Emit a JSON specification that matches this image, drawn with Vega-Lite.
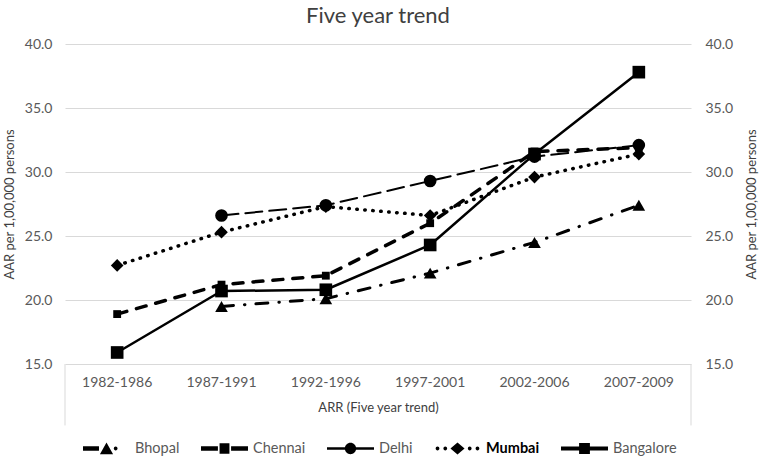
{
  "$schema": "https://vega.github.io/schema/vega-lite/v6.json",
  "width": 626,
  "height": 320,
  "autosize": {"type": "none"},
  "padding": {"left": 65, "top": 44, "right": 70, "bottom": 93},
  "background": "white",
  "title": {"text": "Five year trend", "font": "Lato", "fontSize": 22, "fontWeight": "normal", "color": "#404040", "anchor": "middle", "offset": 9},
  "config": {
    "view": {"stroke": null},
    "font": "Lato",
    "axis": {"labelFont": "Lato", "titleFont": "Lato", "labelColor": "#595959", "titleColor": "#404040", "titleFontWeight": "normal", "labelFontSize": 14, "titleFontSize": 13}
  },
  "data": {
    "values": [
      {"period": "1987-1991", "city": "Bhopal", "value": 19.5},
      {"period": "1992-1996", "city": "Bhopal", "value": 20.1},
      {"period": "1997-2001", "city": "Bhopal", "value": 22.1},
      {"period": "2002-2006", "city": "Bhopal", "value": 24.5},
      {"period": "2007-2009", "city": "Bhopal", "value": 27.4},
      {"period": "1982-1986", "city": "Chennai", "value": 18.9},
      {"period": "1987-1991", "city": "Chennai", "value": 21.2},
      {"period": "1992-1996", "city": "Chennai", "value": 21.9},
      {"period": "1997-2001", "city": "Chennai", "value": 26.0},
      {"period": "2002-2006", "city": "Chennai", "value": 31.6},
      {"period": "2007-2009", "city": "Chennai", "value": 31.9},
      {"period": "1987-1991", "city": "Delhi", "value": 26.6},
      {"period": "1992-1996", "city": "Delhi", "value": 27.4},
      {"period": "1997-2001", "city": "Delhi", "value": 29.3},
      {"period": "2002-2006", "city": "Delhi", "value": 31.2},
      {"period": "2007-2009", "city": "Delhi", "value": 32.1},
      {"period": "1982-1986", "city": "Mumbai", "value": 22.7},
      {"period": "1987-1991", "city": "Mumbai", "value": 25.3},
      {"period": "1992-1996", "city": "Mumbai", "value": 27.3},
      {"period": "1997-2001", "city": "Mumbai", "value": 26.6},
      {"period": "2002-2006", "city": "Mumbai", "value": 29.6},
      {"period": "2007-2009", "city": "Mumbai", "value": 31.4},
      {"period": "1982-1986", "city": "Bangalore", "value": 15.9},
      {"period": "1987-1991", "city": "Bangalore", "value": 20.7},
      {"period": "1992-1996", "city": "Bangalore", "value": 20.8},
      {"period": "1997-2001", "city": "Bangalore", "value": 24.3},
      {"period": "2002-2006", "city": "Bangalore", "value": 31.4},
      {"period": "2007-2009", "city": "Bangalore", "value": 37.8}
    ]
  },
  "layer": [
    {
      "transform": [{"filter": "datum.city === 'Bhopal'"}],
      "mark": {"type": "line", "color": "black", "strokeCap": "round", "strokeJoin": "round", "strokeWidth": 3, "strokeDash": [12, 11, 0.5, 11]},
      "encoding": {
        "x": {
          "field": "period", "type": "nominal",
          "scale": {"type": "band", "paddingInner": 0, "paddingOuter": 0, "domain": ["1982-1986", "1987-1991", "1992-1996", "1997-2001", "2002-2006", "2007-2009"]},
          "axis": {"title": "ARR (Five year trend)", "labelAngle": 0, "ticks": false, "domain": false, "labelPadding": 11, "titlePadding": 12}
        },
        "y": {
          "field": "value", "type": "quantitative",
          "scale": {"domain": [15, 40], "nice": false, "zero": false},
          "axis": {"orient": "left", "title": "AAR per 1,00,000 persons", "values": [15, 20, 25, 30, 35, 40], "format": ".1f", "grid": true, "gridColor": "#d9d9d9", "gridWidth": 1, "domain": false, "ticks": false, "labelPadding": 13, "titlePadding": 8}
        }
      }
    },
    {
      "transform": [{"filter": "datum.city === 'Chennai'"}],
      "mark": {"type": "line", "color": "black", "strokeCap": "round", "strokeJoin": "round", "strokeWidth": 3.5, "strokeDash": [10, 10]},
      "encoding": {
        "x": {"field": "period", "type": "nominal"},
        "y": {"field": "value", "type": "quantitative", "axis": null}
      }
    },
    {
      "transform": [{"filter": "datum.city === 'Delhi'"}],
      "mark": {"type": "line", "color": "black", "strokeCap": "round", "strokeJoin": "round", "strokeWidth": 2, "strokeDash": [17, 7]},
      "encoding": {
        "x": {"field": "period", "type": "nominal"},
        "y": {"field": "value", "type": "quantitative", "axis": null}
      }
    },
    {
      "transform": [{"filter": "datum.city === 'Mumbai'"}],
      "mark": {"type": "line", "color": "black", "strokeCap": "round", "strokeJoin": "round", "strokeWidth": 3.5, "strokeDash": [0.5, 7.5]},
      "encoding": {
        "x": {"field": "period", "type": "nominal"},
        "y": {"field": "value", "type": "quantitative", "axis": null}
      }
    },
    {
      "transform": [{"filter": "datum.city === 'Bangalore'"}],
      "mark": {"type": "line", "color": "black", "strokeCap": "round", "strokeJoin": "round", "strokeWidth": 2.5},
      "encoding": {
        "x": {"field": "period", "type": "nominal"},
        "y": {"field": "value", "type": "quantitative", "axis": null}
      }
    },
    {
      "mark": {"type": "point", "filled": true, "opacity": 1, "color": "black", "size": 160},
      "encoding": {
        "x": {"field": "period", "type": "nominal"},
        "y": {"field": "value", "type": "quantitative", "axis": null},
        "shape": {
          "field": "city", "type": "nominal", "legend": null,
          "scale": {"domain": ["Bangalore", "Bhopal", "Chennai", "Delhi", "Mumbai"], "range": ["square", "triangle-up", "M-0.62,-0.62H0.62V0.62H-0.62Z", "circle", "diamond"]}
        }
      }
    },
    {
      "mark": {"type": "point", "filled": true, "opacity": 0, "color": "black", "size": 1},
      "encoding": {
        "x": {"field": "period", "type": "nominal"},
        "y": {"field": "value", "type": "quantitative", "axis": null},
        "shape": {
          "field": "city", "type": "nominal",
          "scale": {"domain": ["Bhopal", "Chennai", "Delhi", "Mumbai", "Bangalore"], "range": [
            "M-1,-0.1H-0.32V0.1H-1Z M-0.28,0.24L0,-0.26L0.28,0.24Z M0.31,0A0.08,0.08 0 1,1 0.47,0A0.08,0.08 0 1,1 0.31,0Z",
            "M-1,-0.1H-0.28V0.1H-1Z M-0.21,-0.22H0.21V0.22H-0.21Z M0.28,-0.1H1V0.1H0.28Z",
            "M-1,-0.05H1V0.05H-1Z M-0.24,0A0.24,0.24 0 1,1 0.24,0A0.24,0.24 0 1,1 -0.24,0Z",
            "M-0.93,0A0.08,0.08 0 1,1 -0.77,0A0.08,0.08 0 1,1 -0.93,0Z M-0.6,0A0.08,0.08 0 1,1 -0.44,0A0.08,0.08 0 1,1 -0.6,0Z M0,-0.26L0.3,0L0,0.26L-0.3,0Z M0.44,0A0.08,0.08 0 1,1 0.6,0A0.08,0.08 0 1,1 0.44,0Z M0.77,0A0.08,0.08 0 1,1 0.93,0A0.08,0.08 0 1,1 0.77,0Z",
            "M-1,-0.09H1V0.09H-1Z M-0.23,-0.23H0.23V0.23H-0.23Z"
          ]},
          "legend": {
            "orient": "none", "legendX": 18, "legendY": 381, "direction": "horizontal", "columns": 5, "title": null,
            "padding": 0, "symbolSize": 2209, "symbolFillColor": "black", "symbolStrokeWidth": 0, "symbolOpacity": 1,
            "labelFont": "Lato", "labelFontSize": 14.5, "labelOffset": 5, "columnPadding": 21,
            "labelColor": {"expr": "datum.value === 'Mumbai' ? '#000000' : '#595959'"},
            "labelFontWeight": {"expr": "datum.value === 'Mumbai' ? 'bold' : 'normal'"}
          }
        }
      }
    },
    {
      "data": {"values": [{"edge": "left"}]},
      "mark": {"type": "rule", "color": "#d9d9d9", "strokeWidth": 1},
      "encoding": {
        "x": {"datum": "1982-1986", "type": "nominal", "bandPosition": 0},
        "y": {"datum": 15, "type": "quantitative", "axis": null},
        "y2": {"datum": 10.2}
      }
    },
    {
      "data": {"values": [{"edge": "right"}]},
      "mark": {"type": "rule", "color": "#d9d9d9", "strokeWidth": 1},
      "encoding": {
        "x": {"datum": "2007-2009", "type": "nominal", "bandPosition": 1},
        "y": {
          "datum": 15, "type": "quantitative",
          "axis": {"orient": "right", "title": "AAR per 1,00,000 persons", "titleAngle": 270, "values": [15, 20, 25, 30, 35, 40], "format": ".1f", "grid": false, "domain": false, "ticks": false, "labelPadding": 14, "titlePadding": 26}
        },
        "y2": {"datum": 10.2}
      }
    }
  ],
  "resolve": {"scale": {"y": "shared", "shape": "independent"}, "axis": {"y": "independent"}, "legend": {"shape": "independent"}}
}
